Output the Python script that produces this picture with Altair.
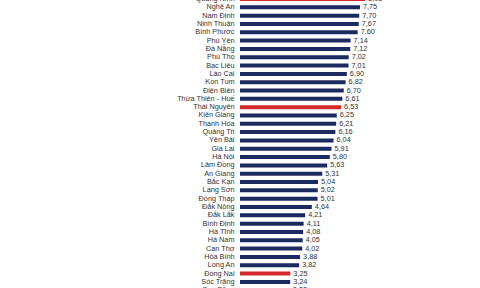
import altair as alt
import pandas as pd

provinces = [
    "Quảng Ninh", "Nghệ An", "Nam Định", "Ninh Thuận", "Bình Phước", "Phú Yên",
    "Đà Nẵng", "Phú Thọ", "Bạc Liêu", "Lào Cai", "Kon Tum", "Điện Biên",
    "Thừa Thiên - Huế", "Thái Nguyên", "Kiên Giang", "Thanh Hóa", "Quảng Trị",
    "Yên Bái", "Gia Lai", "Hà Nội", "Lâm Đồng", "An Giang", "Bắc Kạn", "Lạng Sơn",
    "Đồng Tháp", "Đắk Nông", "Đắk Lắk", "Bình Định", "Hà Tĩnh", "Hà Nam",
    "Cần Thơ", "Hòa Bình", "Long An", "Đồng Nai", "Sóc Trăng", "Cao Bằng",
]
scores = [
    8.08, 7.75, 7.70, 7.67, 7.60, 7.14,
    7.12, 7.02, 7.01, 6.90, 6.82, 6.70,
    6.61, 6.53, 6.25, 6.21, 6.16,
    6.04, 5.91, 5.80, 5.63, 5.31, 5.04, 5.02,
    5.01, 4.64, 4.21, 4.11, 4.08, 4.05,
    4.02, 3.88, 3.82, 3.25, 3.24, 3.22,
]
highlight = ["Quảng Ninh", "Thái Nguyên", "Đồng Nai"]

df = pd.DataFrame({"province": provinces, "score": scores})
df["group"] = ["hl" if p in highlight else "base" for p in provinces]

FONT = "Liberation Sans"
FS = 7.3

base = alt.Chart(df).encode(
    y=alt.Y(
        "province:N", sort=provinces, title=None,
        scale=alt.Scale(paddingInner=0, paddingOuter=0),
        axis=alt.Axis(domain=False, ticks=False, labelPadding=6, labelFont=FONT,
                      labelFontSize=FS, labelColor="#333333", labelLimit=200),
    ),
    x=alt.X("score:Q", scale=alt.Scale(domain=[0, 15.5]), axis=None),
)

bars = base.mark_bar(size=4).encode(
    color=alt.Color("group:N",
                    scale=alt.Scale(domain=["base", "hl"], range=["#1b2b60", "#d42a2a"]),
                    legend=None)
)

text = base.transform_calculate(
    label="replace(format(datum.score, '.2f'), '.', ',')"
).mark_text(align="left", dx=3, font=FONT, fontSize=FS, color="#333333").encode(
    text="label:N"
)

chart = (bars + text).properties(
    width=240,
    height=299.52,
    autosize=alt.AutoSizeParams(type="none"),
    padding={"left": 240, "top": -5.16, "right": 0, "bottom": 0},
    background="white",
).configure_view(stroke=None)

chart.save("out.html", embed_options={"renderer": "svg", "actions": False})
